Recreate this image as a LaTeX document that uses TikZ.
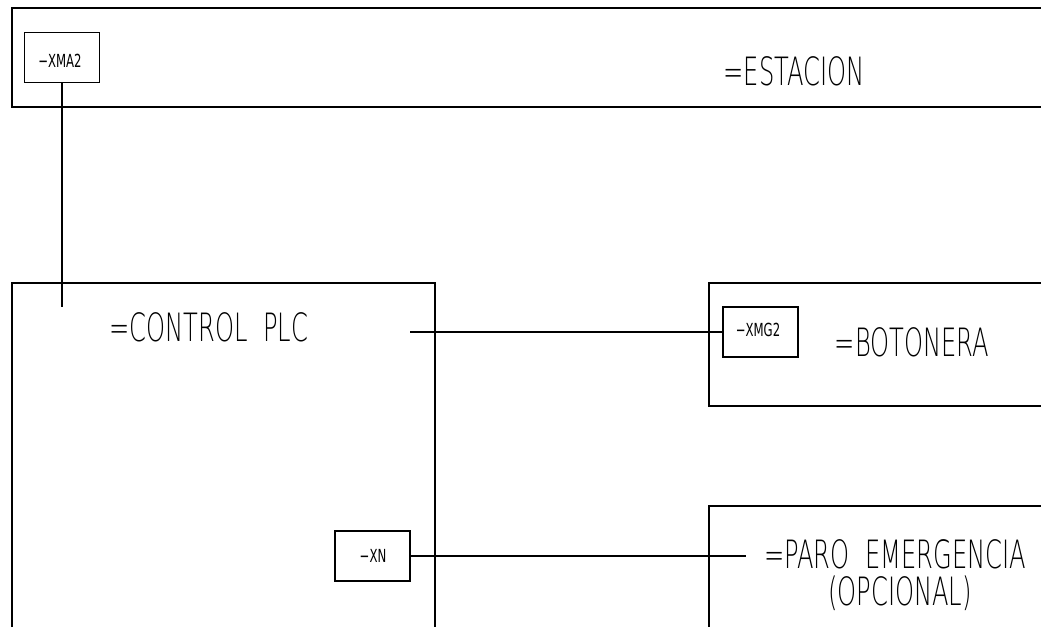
\documentclass[tikz,border=0pt]{standalone}
\usepackage{fontspec}
\newfontfamily\bigf[FakeStretch=0.62]{DejaVu Sans ExtraLight}
\newfontfamily\smallf[FakeStretch=0.65]{DejaVu Sans}
\begin{document}
\begin{tikzpicture}[x=1pt,y=-1pt,line width=1.3pt,
  frame/.style={draw=black,line width=1.3pt},
  tag/.style={draw=black,line width=1.3pt,inner sep=0pt,minimum width=75pt,minimum height=50pt},
  big/.style={inner sep=0pt,anchor=base,font=\bigf\fontsize{39}{44}\selectfont,align=center},
  small/.style={inner sep=0pt,anchor=base,font=\smallf\fontsize{18}{20}\selectfont},
  wire/.style={draw=black,line width=1.3pt}]
\useasboundingbox (0,0) rectangle (1041,627);
% frames
\draw[frame] (1041,8) -- (12,8) -- (12,107) -- (1041,107);
\draw[frame] (12,627) -- (12,283) -- (435,283) -- (435,627);
\draw[frame] (1041,283) -- (709,283) -- (709,406) -- (1041,406);
\draw[frame] (1041,506) -- (709,506) -- (709,627);
% tag boxes
\node[tag] (xma2) at (62,57.5) {};
\node[tag] (xmg2) at (760.5,332) {};
\node[tag] (xn) at (372.5,556) {};
\node[small] (txma2) at (60,67) {−XMA2};
\node[small] (txmg2) at (758,336.5) {−XMG2};
\node[small] (txn) at (373,562) {−XN};
% titles
\node[big] (est) at (794,85) {=ESTACION};
\node[big] (plc) at (209,341) {=CONTROL\ \ PLC};
\node[big] (bot) at (912,356) {=BOTONERA};
\node[big] (paro) at (895,568) {=PARO\ \ EMERGENCIA};
\node[big] (opc) at (900,605) {(OPCIONAL)};
% connectors
\coordinate (c1) at (62,307);
\coordinate (c2) at (410,332);
\coordinate (c3) at (746,556);
\draw[wire] (xma2.south) -- (c1);
\draw[wire] (c2) -- (xmg2.west);
\draw[wire] (xn.east) -- (c3);
\end{tikzpicture}
\end{document}
